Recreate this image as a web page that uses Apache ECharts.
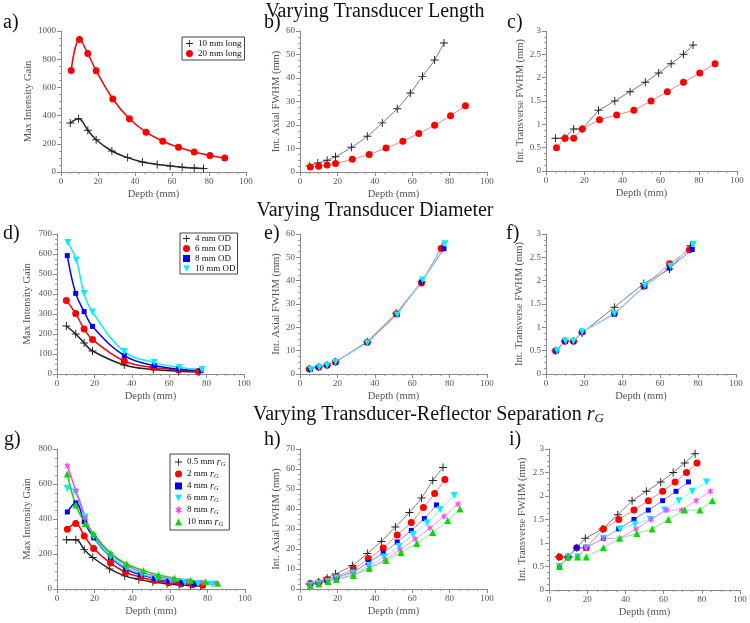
<!DOCTYPE html>
<html>
<head>
<meta charset="utf-8">
<script src="https://cdn.jsdelivr.net/npm/echarts@6/dist/echarts.min.js"></script>
<style>
  html, body { margin: 0; padding: 0; background: #fff; }
  #main { width: 750px; height: 623px; }
</style>
</head>
<body>
<div id="main"></div>
<script>
// ---- row 1: varying transducer length ----
var depthLen10 = [5, 9.5, 14.5, 19, 27.5, 36, 44, 52, 59, 65.5, 72, 77];
var depthLen20 = [5.5, 10, 14.5, 19, 28, 37, 46, 55, 63.5, 72, 80.5, 88.5];
var gainLen10 = [347, 378, 296, 229, 149, 102, 71, 54, 43, 34, 28, 25];
var gainLen20 = [720, 940, 840, 718, 518, 377, 282, 218, 175, 142, 117, 100];
var axialLen10 = [2.6, 3.8, 5, 6.5, 10.5, 15.2, 20.9, 26.9, 33.6, 40.7, 47.7, 54.9];
var axialLen20 = [2.1, 2.4, 3, 3.6, 5.4, 7.5, 10.2, 13.1, 16.4, 19.9, 23.9, 28.2];
var transLen10 = [0.7, 0.7, 0.9, 0.9, 1.3, 1.5, 1.7, 1.9, 2.1, 2.3, 2.5, 2.7];
var transLen20 = [0.5, 0.7, 0.7, 0.9, 1.1, 1.2, 1.3, 1.5, 1.7, 1.9, 2.1, 2.3];

// ---- row 2: varying transducer diameter ----
var depthOD4 = [5, 10, 14.5, 19, 36, 51.5, 65, 76];
var depthOD6 = [5, 10, 14.5, 19, 36, 51.5, 65, 75.5];
var depthOD8 = [5.5, 10, 14.5, 19, 36, 52, 65, 77];
var depthOD10 = [5.8, 10.3, 14.5, 19, 36, 52, 65.5, 77.5];
var gainOD4 = [240, 200, 155, 115, 45, 22, 14, 10];
var gainOD6 = [368, 302, 225, 172, 65, 32, 20, 12];
var gainOD8 = [592, 403, 312, 238, 92, 42, 25, 17];
var gainOD10 = [657, 570, 402, 310, 112, 57, 33, 23];
var axialOD4 = [2.2, 3, 3.7, 5.2, 13.8, 26, 39.5, 54.5];
var axialOD6 = [2.1, 2.9, 3.7, 5.1, 13.6, 25.8, 39, 53.8];
var axialOD8 = [2, 3, 3.8, 5, 13.5, 25.5, 39.5, 53.7];
var axialOD10 = [1.9, 2.8, 3.6, 5, 13.3, 25.3, 40.3, 55.8];
var transOD4 = [0.5, 0.7, 0.7, 0.88, 1.43, 1.94, 2.25, 2.75];
var transOD6 = [0.5, 0.7, 0.7, 0.9, 1.3, 1.88, 2.36, 2.66];
var transOD8 = [0.5, 0.7, 0.7, 0.9, 1.28, 1.88, 2.27, 2.67];
var transOD10 = [0.5, 0.7, 0.7, 0.9, 1.29, 1.89, 2.31, 2.78];

// ---- row 3: varying transducer-reflector separation rG ----
var depthG05 = [5, 10, 14.5, 19, 28, 36, 43.5, 51, 58.5, 65, 71, 76.5];
var depthG2 = [5.5, 10, 14.5, 19.5, 28.5, 36.5, 44.5, 52, 59.5, 66, 72, 77.5];
var depthG4 = [5.5, 10, 14.5, 19.5, 28.5, 36.5, 44.5, 52, 59.5, 66.5, 73];
var depthG6 = [5.5, 10, 15, 19.5, 28.5, 37, 45, 53, 60.5, 68, 75, 82.5];
var depthG8 = [5.5, 10, 15, 19.5, 28.5, 37, 45.5, 53.5, 61.5, 69.5, 77, 84.5];
var depthG10 = [5.5, 10, 15, 19.5, 28.5, 37, 46, 54, 62.5, 71, 79, 85.5];
var gainG05 = [282, 282, 225, 180, 115, 75, 55, 40, 30, 24, 20, 17];
var gainG2 = [342, 375, 303, 232, 148, 96, 67, 48, 36, 28, 24, 21];
var gainG4 = [440, 492, 385, 292, 180, 115, 82, 60, 45, 35, 28];
var gainG6 = [575, 555, 410, 300, 185, 120, 85, 62, 48, 38, 31, 27];
var gainG8 = [705, 562, 405, 310, 200, 135, 95, 72, 55, 45, 38, 33];
var gainG10 = [657, 480, 375, 314, 205, 143, 105, 80, 62, 50, 42, 33];
var axialG05 = [2.5, 3.5, 5.5, 7.5, 11.8, 17.8, 23.8, 31, 38.3, 45.5, 54.2, 60.8];
var axialG2 = [2.7, 3.2, 4.7, 6.3, 10, 15.2, 20.5, 27, 33.3, 40.7, 47.7, 54.8];
var axialG4 = [2.5, 3, 4.3, 5.8, 8.7, 13.2, 18, 23.5, 29.3, 35.2, 42];
var axialG6 = [2, 2.7, 3.8, 5.5, 8, 11.8, 16, 21.3, 27.2, 33, 39.7, 46.7];
var axialG8 = [1.8, 2.5, 3.5, 5, 7.2, 10.8, 14.7, 19.7, 25, 30.5, 36.3, 42.5];
var axialG10 = [1.8, 2.5, 3.7, 4.7, 6.8, 10.2, 14.2, 18.3, 22.8, 28.3, 34.2, 40];
var transG05 = [0.7, 0.7, 0.9, 1.1, 1.3, 1.6, 1.9, 2.1, 2.3, 2.5, 2.7, 2.9];
var transG2 = [0.7, 0.7, 0.9, 0.9, 1.3, 1.5, 1.7, 1.9, 2.1, 2.3, 2.5, 2.7];
var transG4 = [0.5, 0.7, 0.9, 0.9, 1.1, 1.3, 1.5, 1.7, 1.9, 2.1, 2.3];
var transG6 = [0.5, 0.7, 0.7, 0.9, 1.1, 1.3, 1.4, 1.5, 1.7, 1.9, 2.1, 2.3];
var transG8 = [0.5, 0.7, 0.7, 0.9, 1.1, 1.1, 1.3, 1.5, 1.7, 1.7, 1.9, 2.1];
var transG10 = [0.5, 0.7, 0.7, 0.7, 0.9, 1.1, 1.2, 1.3, 1.5, 1.7, 1.7, 1.9];

var FONT = '"Liberation Serif", "DejaVu Serif", serif';
var PLUS = 'path://M4.4,0H5.6V4.4H10V5.6H5.6V10H4.4V5.6H0V4.4H4.4Z';
var TRI_DOWN = 'path://M0,0H10L5,9Z';
var STAR = 'path://M4,0H6V3.3L8.6,1.4L9.6,2.6L7,5L9.6,7.4L8.6,8.6L6,6.7V10H4V6.7L1.4,8.6L0.4,7.4L3,5L0.4,2.6L1.4,1.4L4,3.3Z';

// marker + colour per curve family; light = line colour in the thin panels
var STY = {
    black:   { symbol: PLUS,     size: 8, color: '#222222', light: '#7a7a7a' },
    red:     { symbol: 'circle', size: 7, color: '#ff0000', light: '#ff8080' },
    blue:    { symbol: 'rect',   size: 5, color: '#0000ff', light: '#8080ff' },
    cyan:    { symbol: TRI_DOWN, size: 7, color: '#00f0ff', light: '#80f4ff' },
    magenta: { symbol: STAR,     size: 6, color: '#ff40ff', light: '#ff90ff' },
    green:   { symbol: 'triangle', size: 7, color: '#00dd00', light: '#80ee80' }
};

var pts = function (xs, ys) {
    return xs.map(function (x, i) { return [x, ys[i]]; });
};

// thick = the smooth gain curves (a, d, g), otherwise thin light lines
var ser = function (name, gi, xs, ys, key, thick, smooth) {
    var s = STY[key];
    return {
        type: 'line',
        name: name,
        xAxisIndex: gi,
        yAxisIndex: gi,
        data: pts(xs, ys),
        symbol: s.symbol,
        symbolSize: s.size,
        smooth: smooth,
        itemStyle: { color: s.color },
        lineStyle: { color: thick ? s.color : s.light, width: thick ? 1.5 : 1 },
        z: 2
    };
};

var grids = [
    { left: 61, top: 31, width: 185, height: 141 },
    { left: 300, top: 31, width: 187, height: 141 },
    { left: 546, top: 31, width: 191, height: 140 },
    { left: 57, top: 234, width: 187, height: 140 },
    { left: 300, top: 234, width: 187, height: 140 },
    { left: 546, top: 234, width: 190, height: 140 },
    { left: 57, top: 449, width: 188, height: 140 },
    { left: 300, top: 449, width: 187, height: 140 },
    { left: 549, top: 449, width: 191, height: 141 }
];

var yNames = ['Max Intensity Gain', 'Int. Axial FWHM (mm)', 'Int. Transverse FWHM (mm)'];
var yMax = [1000, 60, 3, 700, 60, 3, 800, 70, 3];
var yStep = [200, 10, 0.5, 100, 10, 0.5, 200, 10, 0.5];
var yGap = [25, 17, 20, 24, 17, 21, 24, 17, 21];

var axisCommon = {
    axisLine: { lineStyle: { color: '#8a8a8a', width: 1 } },
    axisTick: { show: true, length: 4, lineStyle: { color: '#8a8a8a' } },
    minorTick: { show: true, splitNumber: 4, length: 2, lineStyle: { color: '#9a9a9a' } },
    splitLine: { show: false },
    axisLabel: {
        color: '#555', fontFamily: FONT, fontSize: 9, margin: 5,
        formatter: function (v) { return String(v); }
    },
    nameTextStyle: { color: '#555', fontFamily: FONT, fontSize: 10.5 }
};

var xAxes = grids.map(function (g, i) {
    return echarts.util.merge({
        type: 'value', gridIndex: i, min: 0, max: 100, interval: 20,
        name: 'Depth (mm)', nameLocation: 'middle', nameGap: 17
    }, axisCommon, true);
});

var yAxes = grids.map(function (g, i) {
    return echarts.util.merge({
        type: 'value', gridIndex: i, min: 0, max: yMax[i], interval: yStep[i],
        name: yNames[i % 3], nameLocation: 'middle', nameGap: yGap[i]
    }, axisCommon, true);
});

var series = [
    // a
    ser('10 mm long', 0, depthLen10, gainLen10, 'black', true, 0.4),
    ser('20 mm long', 0, depthLen20, gainLen20, 'red', true, 0.4),
    // b
    ser('b10', 1, depthLen10, axialLen10, 'black', false, 0.3),
    ser('b20', 1, depthLen20, axialLen20, 'red', false, 0.3),
    // c
    ser('c10', 2, depthLen10, transLen10, 'black', false, false),
    ser('c20', 2, depthLen20, transLen20, 'red', false, false),
    // d
    ser('4 mm OD', 3, depthOD4, gainOD4, 'black', true, 0.4),
    ser('6 mm OD', 3, depthOD6, gainOD6, 'red', true, 0.4),
    ser('8 mm OD', 3, depthOD8, gainOD8, 'blue', true, 0.4),
    ser('10 mm OD', 3, depthOD10, gainOD10, 'cyan', true, 0.4),
    // e
    ser('e4', 4, depthOD4, axialOD4, 'black', false, false),
    ser('e6', 4, depthOD6, axialOD6, 'red', false, false),
    ser('e8', 4, depthOD8, axialOD8, 'blue', false, false),
    ser('e10', 4, depthOD10, axialOD10, 'cyan', false, false),
    // f
    ser('f4', 5, depthOD4, transOD4, 'black', false, false),
    ser('f6', 5, depthOD6, transOD6, 'red', false, false),
    ser('f8', 5, depthOD8, transOD8, 'blue', false, false),
    ser('f10', 5, depthOD10, transOD10, 'cyan', false, false),
    // g
    ser('0.5 mm', 6, depthG05, gainG05, 'black', true, 0.4),
    ser('2 mm', 6, depthG2, gainG2, 'red', true, 0.4),
    ser('4 mm', 6, depthG4, gainG4, 'blue', true, 0.4),
    ser('6 mm', 6, depthG6, gainG6, 'cyan', true, 0.4),
    ser('8 mm', 6, depthG8, gainG8, 'magenta', true, 0.4),
    ser('10 mm', 6, depthG10, gainG10, 'green', true, 0.4),
    // h
    ser('h05', 7, depthG05, axialG05, 'black', false, 0.3),
    ser('h2', 7, depthG2, axialG2, 'red', false, 0.3),
    ser('h4', 7, depthG4, axialG4, 'blue', false, 0.3),
    ser('h6', 7, depthG6, axialG6, 'cyan', false, 0.3),
    ser('h8', 7, depthG8, axialG8, 'magenta', false, 0.3),
    ser('h10', 7, depthG10, axialG10, 'green', false, 0.3),
    // i
    ser('i05', 8, depthG05, transG05, 'black', false, false),
    ser('i2', 8, depthG2, transG2, 'red', false, false),
    ser('i4', 8, depthG4, transG4, 'blue', false, false),
    ser('i6', 8, depthG6, transG6, 'cyan', false, false),
    ser('i8', 8, depthG8, transG8, 'magenta', false, false),
    ser('i10', 8, depthG10, transG10, 'green', false, false)
];

var legendItems = function (names, keys) {
    return names.map(function (n, i) { return { name: n, icon: STY[keys[i]].symbol }; });
};

var legendBase = {
    orient: 'vertical',
    borderColor: '#444',
    borderWidth: 1,
    itemWidth: 7,
    itemHeight: 7,
    itemGap: 1,
    selectedMode: false,
    textStyle: { color: '#111', fontFamily: FONT, fontSize: 9 }
};

var legends = [
    echarts.util.merge({
        left: 182, top: 37, padding: [2, 3, 2, 4],
        data: legendItems(['10 mm long', '20 mm long'], ['black', 'red'])
    }, legendBase, true),
    echarts.util.merge({
        left: 180, top: 233, padding: [1, 2, 1, 3], itemGap: 0,
        textStyle: { fontSize: 11.5 },
        data: legendItems(['4 mm OD', '6 mm OD', '8 mm OD', '10 mm OD'], ['black', 'red', 'blue', 'cyan'])
    }, legendBase, true),
    echarts.util.merge({
        left: 170, top: 454, padding: [3, 4, 2, 5], itemGap: 0,
        data: legendItems(['0.5 mm', '2 mm', '4 mm', '6 mm', '8 mm', '10 mm'],
            ['black', 'red', 'blue', 'cyan', 'magenta', 'green']),
        formatter: function (name) { return '{a|' + name + ' }{r|r}{s|G}'; },
        textStyle: {
            rich: {
                a: { fontFamily: FONT, fontSize: 9, color: '#111' },
                r: { fontFamily: FONT, fontSize: 10, fontStyle: 'italic', color: '#111' },
                s: { fontFamily: FONT, fontSize: 6.5, fontStyle: 'italic', color: '#111', padding: [5, 0, 0, 0] }
            }
        }
    }, legendBase, true)
];

var rowTitle = function (text, left, top) {
    return {
        text: text, left: left, top: top, padding: 0,
        textStyle: {
            fontFamily: FONT, fontSize: 20, fontWeight: 'normal', color: '#111',
            rich: {
                r: { fontFamily: FONT, fontSize: 20, fontStyle: 'italic', color: '#111' },
                g: { fontFamily: FONT, fontSize: 13, fontStyle: 'italic', color: '#111', padding: [8, 0, 0, 0] }
            }
        }
    };
};

var panelLabel = function (text, left, top) {
    return {
        text: text, left: left, top: top, padding: 0,
        textStyle: { fontFamily: FONT, fontSize: 20, fontWeight: 'normal', color: '#111' }
    };
};

var titles = [
    rowTitle('Varying Transducer Length', 'center', 2),
    rowTitle('Varying Transducer Diameter', 'center', 201),
    rowTitle('Varying Transducer-Reflector Separation {r|r}{g|G}', 253, 404),
    panelLabel('a)', 3, 13),
    panelLabel('b)', 264, 13),
    panelLabel('c)', 507, 13),
    panelLabel('d)', 3, 224),
    panelLabel('e)', 264, 224),
    panelLabel('f)', 506, 224),
    panelLabel('g)', 4, 430),
    panelLabel('h)', 264, 430),
    panelLabel('i)', 509, 430)
];

var chart = echarts.init(document.getElementById('main'));
chart.setOption({
    animation: false,
    backgroundColor: '#fff',
    title: titles,
    legend: legends,
    grid: grids,
    xAxis: xAxes,
    yAxis: yAxes,
    series: series
});
</script>
</body>
</html>
